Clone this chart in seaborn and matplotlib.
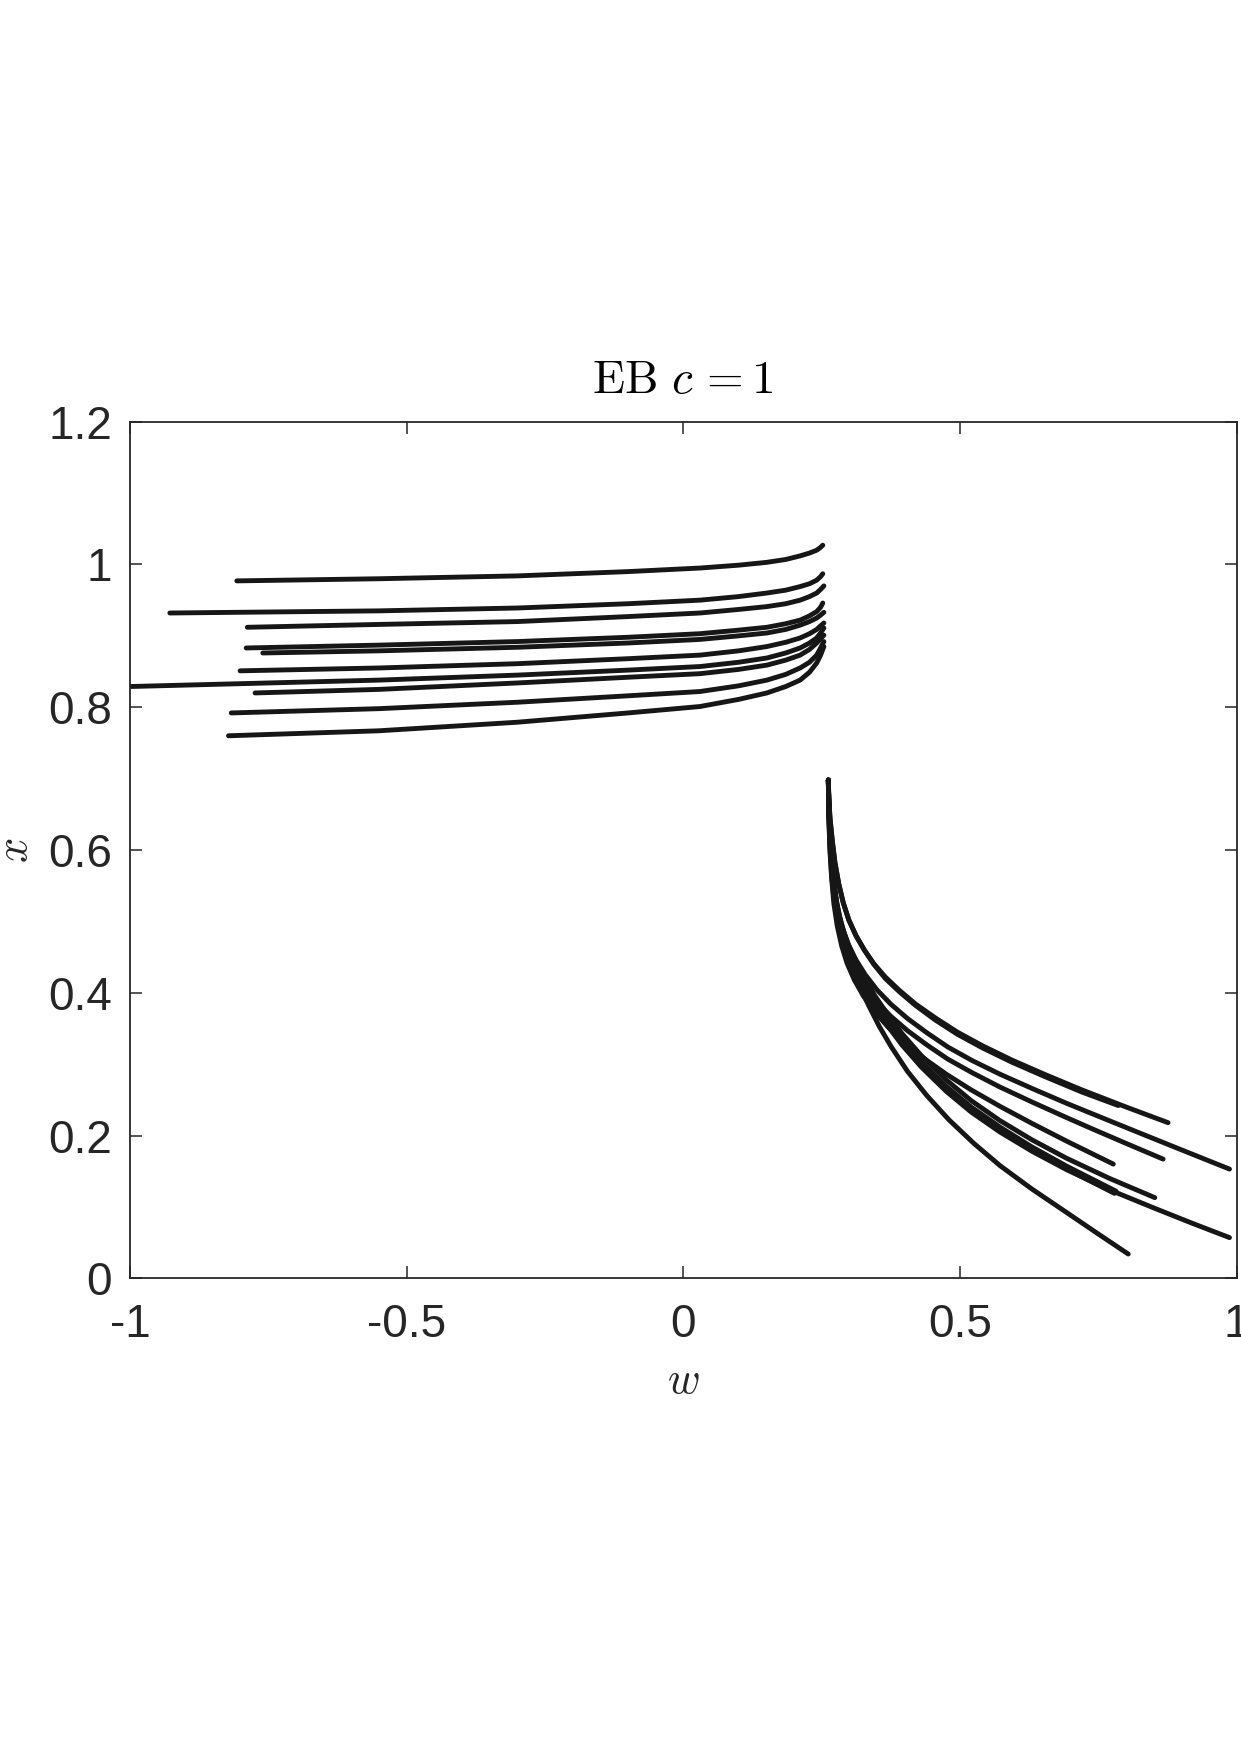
import numpy as np
import pandas as pd
import matplotlib
matplotlib.use("Agg")
import matplotlib.pyplot as plt
import seaborn as sns

# ---------------- data ----------------
# upper branch trajectories (w, x)
upper_w_grid = [-0.55, -0.30, -0.10, 0.03, 0.10, 0.151, 0.185, 0.211, 0.228, 0.241, 0.248]
upper_start_w = {"u1": -0.807, "u2": -0.928, "u3": -0.788, "u4": -0.790, "u5": -0.760,
                 "u6": -0.801, "u7": -1.000, "u8": -0.774, "u9": -0.817, "u10": -0.822}
upper_end_w = {"u1": 0.252, "u2": 0.252, "u3": 0.254, "u4": 0.252, "u5": 0.254,
               "u6": 0.254, "u7": 0.254, "u8": 0.254, "u9": 0.254, "u10": 0.254}
upper_x = {
    "u1": [0.977, 0.980, 0.984, 0.990, 0.995, 0.999, 1.003, 1.007, 1.012, 1.016, 1.020, 1.024, 1.027],
    "u2": [0.932, 0.935, 0.939, 0.945, 0.950, 0.955, 0.960, 0.964, 0.969, 0.973, 0.978, 0.983, 0.987],
    "u3": [0.912, 0.916, 0.920, 0.927, 0.932, 0.937, 0.941, 0.945, 0.950, 0.955, 0.960, 0.965, 0.970],
    "u4": [0.883, 0.887, 0.892, 0.898, 0.903, 0.908, 0.912, 0.917, 0.922, 0.928, 0.934, 0.940, 0.946],
    "u5": [0.876, 0.879, 0.884, 0.890, 0.895, 0.900, 0.904, 0.909, 0.915, 0.920, 0.925, 0.929, 0.933],
    "u6": [0.851, 0.855, 0.861, 0.868, 0.873, 0.879, 0.885, 0.891, 0.897, 0.903, 0.909, 0.914, 0.918],
    "u7": [0.829, 0.838, 0.845, 0.852, 0.857, 0.863, 0.869, 0.876, 0.883, 0.890, 0.897, 0.904, 0.911],
    "u8": [0.820, 0.825, 0.834, 0.842, 0.847, 0.853, 0.859, 0.866, 0.873, 0.881, 0.890, 0.896, 0.901],
    "u9": [0.792, 0.798, 0.807, 0.816, 0.822, 0.830, 0.838, 0.846, 0.855, 0.863, 0.873, 0.883, 0.892],
    "u10": [0.760, 0.767, 0.779, 0.792, 0.801, 0.811, 0.820, 0.829, 0.838, 0.849, 0.862, 0.873, 0.885],
}

# lower branch trajectories (w, x)
lower_w = {
    "la": [0.262, 0.263, 0.265, 0.269, 0.274, 0.281, 0.289, 0.299, 0.312, 0.327, 0.344, 0.365,
           0.391, 0.420, 0.455, 0.495, 0.540, 0.593, 0.652, 0.720, 0.800, 0.876],
    "lb": [0.262, 0.263, 0.265, 0.269, 0.274, 0.281, 0.289, 0.299, 0.312, 0.327, 0.344, 0.365,
           0.391, 0.420, 0.455, 0.495, 0.540, 0.593, 0.652, 0.720, 0.786],
    "ld": [0.262, 0.263, 0.265, 0.268, 0.272, 0.279, 0.287, 0.298, 0.312, 0.329, 0.350, 0.375,
           0.405, 0.440, 0.478, 0.522, 0.572, 0.630, 0.693, 0.750, 0.820, 0.900, 0.987],
    "lc": [0.262, 0.263, 0.265, 0.268, 0.272, 0.279, 0.287, 0.298, 0.312, 0.329, 0.350, 0.375,
           0.405, 0.440, 0.478, 0.522, 0.572, 0.630, 0.693, 0.740, 0.800, 0.867],
    "le": [0.262, 0.263, 0.265, 0.268, 0.272, 0.278, 0.286, 0.296, 0.309, 0.325, 0.345, 0.370,
           0.400, 0.435, 0.475, 0.520, 0.572, 0.630, 0.693, 0.735, 0.777],
    "lf": [0.262, 0.263, 0.265, 0.268, 0.272, 0.277, 0.283, 0.291, 0.301, 0.313, 0.328, 0.346,
           0.368, 0.395, 0.430, 0.475, 0.520, 0.572, 0.630, 0.693, 0.770, 0.852],
    "lg": [0.262, 0.263, 0.265, 0.268, 0.272, 0.277, 0.283, 0.291, 0.301, 0.313, 0.328, 0.346,
           0.368, 0.395, 0.430, 0.475, 0.520, 0.572, 0.630, 0.693, 0.779],
    "lg2": [0.262, 0.263, 0.265, 0.268, 0.272, 0.277, 0.283, 0.291, 0.301, 0.313, 0.328, 0.346,
            0.368, 0.395, 0.430, 0.475, 0.520, 0.572, 0.630, 0.693, 0.782],
    "lh": [0.262, 0.263, 0.265, 0.268, 0.272, 0.277, 0.283, 0.291, 0.301, 0.313, 0.328, 0.346,
           0.368, 0.395, 0.430, 0.475, 0.520, 0.572, 0.630, 0.693, 0.770, 0.852, 0.920, 0.987],
    "li": [0.262, 0.263, 0.265, 0.268, 0.272, 0.277, 0.284, 0.293, 0.304, 0.318, 0.335, 0.354,
           0.376, 0.405, 0.440, 0.480, 0.525, 0.572, 0.630, 0.693, 0.750, 0.804],
}
lower_x = {
    "la": [0.698, 0.672, 0.645, 0.614, 0.582, 0.552, 0.526, 0.502, 0.480, 0.460, 0.441, 0.422,
           0.403, 0.384, 0.365, 0.345, 0.326, 0.306, 0.286, 0.264, 0.240, 0.218],
    "lb": [0.698, 0.672, 0.645, 0.614, 0.582, 0.552, 0.526, 0.502, 0.480, 0.460, 0.440, 0.420,
           0.401, 0.382, 0.362, 0.342, 0.323, 0.303, 0.283, 0.261, 0.242],
    "ld": [0.698, 0.650, 0.610, 0.576, 0.546, 0.518, 0.492, 0.468, 0.446, 0.425, 0.404, 0.384,
           0.364, 0.344, 0.324, 0.305, 0.286, 0.266, 0.245, 0.227, 0.205, 0.180, 0.153],
    "lc": [0.698, 0.645, 0.602, 0.565, 0.532, 0.502, 0.475, 0.451, 0.429, 0.408, 0.387, 0.367,
           0.347, 0.327, 0.307, 0.288, 0.268, 0.247, 0.225, 0.209, 0.189, 0.167],
    "le": [0.698, 0.642, 0.598, 0.560, 0.525, 0.494, 0.466, 0.441, 0.418, 0.396, 0.374, 0.352,
           0.330, 0.308, 0.286, 0.264, 0.241, 0.217, 0.192, 0.176, 0.160],
    "lf": [0.698, 0.660, 0.626, 0.588, 0.556, 0.528, 0.505, 0.483, 0.462, 0.441, 0.419, 0.396,
           0.371, 0.343, 0.312, 0.278, 0.249, 0.221, 0.194, 0.168, 0.140, 0.113],
    "lg": [0.698, 0.660, 0.625, 0.586, 0.552, 0.523, 0.499, 0.476, 0.455, 0.433, 0.410, 0.385,
           0.358, 0.330, 0.299, 0.265, 0.236, 0.208, 0.180, 0.153, 0.119],
    "lg2": [0.698, 0.660, 0.625, 0.586, 0.552, 0.523, 0.499, 0.476, 0.455, 0.433, 0.411, 0.387,
            0.362, 0.334, 0.303, 0.269, 0.240, 0.212, 0.184, 0.157, 0.122],
    "lh": [0.698, 0.660, 0.625, 0.585, 0.550, 0.520, 0.495, 0.472, 0.450, 0.428, 0.405, 0.381,
           0.355, 0.327, 0.296, 0.262, 0.233, 0.205, 0.178, 0.152, 0.124, 0.098, 0.077, 0.057],
    "li": [0.698, 0.660, 0.625, 0.590, 0.556, 0.525, 0.495, 0.466, 0.438, 0.410, 0.382, 0.353,
           0.324, 0.290, 0.256, 0.222, 0.189, 0.158, 0.125, 0.092, 0.062, 0.034],
}

x_ticks = [-1, -0.5, 0, 0.5, 1]
x_tick_labels = ["-1", "-0.5", "0", "0.5", "1"]
y_ticks = [0, 0.2, 0.4, 0.6, 0.8, 1.0, 1.2]
y_tick_labels = ["0", "0.2", "0.4", "0.6", "0.8", "1", "1.2"]

# ---------------- build tidy frame ----------------
rows = []
for key, xs in upper_x.items():
    ws = [upper_start_w[key]] + upper_w_grid + [upper_end_w[key]]
    for i, (wv, xv) in enumerate(zip(ws, xs)):
        rows.append({"curve": key, "order": i, "w": wv, "x": xv})
for key in lower_w:
    for i, (wv, xv) in enumerate(zip(lower_w[key], lower_x[key])):
        rows.append({"curve": key, "order": i, "w": wv, "x": xv})
df = pd.DataFrame(rows)

# ---------------- style ----------------
sns.set_theme(style="white")
plt.rcParams["font.family"] = ["Liberation Sans", "DejaVu Sans"]
plt.rcParams["mathtext.fontset"] = "cm"
axis_col = "#262626"

fig = plt.figure(figsize=(12.41, 17.54), dpi=100)
ax = fig.add_axes([0.10475, 0.27121, 0.89178, 0.48837])

sns.lineplot(data=df, x="w", y="x", units="curve", estimator=None, sort=False,
             color="#161616", linewidth=3.5, ax=ax, legend=False)
for line in ax.get_lines():
    line.set_solid_capstyle("round")
    line.set_solid_joinstyle("round")

ax.set_xlim(-1, 1)
ax.set_ylim(0, 1.2)
ax.set_xticks(x_ticks)
ax.set_xticklabels(x_tick_labels)
ax.set_yticks(y_ticks)
ax.set_yticklabels(y_tick_labels)
ax.tick_params(axis="both", which="both", direction="in", length=8.4, width=1.1,
               color=axis_col, labelcolor=axis_col, labelsize=33,
               top=True, right=True, bottom=True, left=True)
ax.tick_params(axis="y", pad=13)
ax.tick_params(axis="x", pad=18)
for sp in ax.spines.values():
    sp.set_visible(True)
    sp.set_color(axis_col)
    sp.set_linewidth(1.3)

ax.set_xlabel(r"$w$", fontsize=32, color=axis_col, labelpad=10)
ax.set_ylabel(r"$x$", fontsize=32, color=axis_col, labelpad=9)
ax.set_title(r"$\mathrm{EB}\ c\,=1$", fontsize=34, color="black", pad=21)

fig.savefig("out.png", dpi=100, facecolor="white")
